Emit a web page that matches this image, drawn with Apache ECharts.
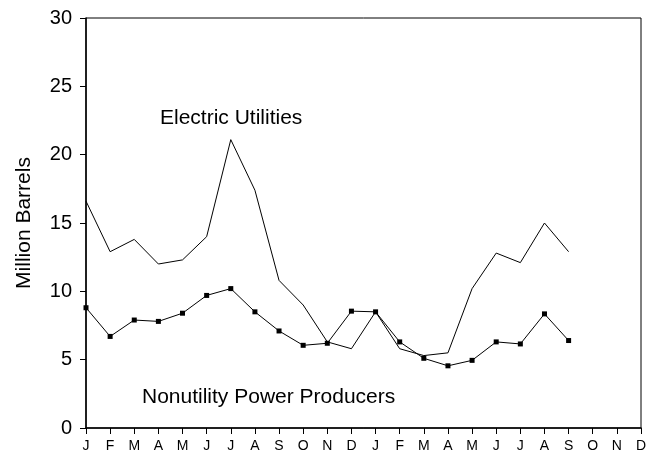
<!DOCTYPE html>
<html><head><meta charset="utf-8">
<script src="https://cdn.jsdelivr.net/npm/echarts@6/dist/echarts.min.js"></script>
<style>html,body{margin:0;padding:0;background:#fff}#c{width:654px;height:457px}</style>
</head><body><div id="c"></div>
<script>
var months = ['J','F','M','A','M','J','J','A','S','O','N','D','J','F','M','A','M','J','J','A','S','O','N','D'];
var electricUtilities = [16.6,12.9,13.8,12.0,12.3,14.0,21.1,17.4,10.8,9.0,6.3,5.8,8.5,5.8,5.3,5.5,10.2,12.8,12.1,15.0,12.9];
var nonutilityProducers = [8.8,6.7,7.9,7.8,8.4,9.7,10.2,8.5,7.1,6.05,6.2,8.55,8.5,6.3,5.1,4.55,4.95,6.3,6.15,8.35,6.4];
var yTicks = {min:0, max:30, interval:5};
var ff = '"Liberation Sans", Arial, sans-serif';
var chart = echarts.init(document.getElementById('c'), null, {renderer:'canvas'});
chart.setOption({
  animation:false,
  backgroundColor:'#fff',
  grid:{left:86, right:13, top:18, bottom:29, show:true, borderColor:'#000', borderWidth:1},
  xAxis:{
    type:'category', data:months, boundaryGap:false,
    axisLine:{lineStyle:{color:'#000', width:1.5}},
    axisTick:{show:true, length:6, lineStyle:{color:'#000'}, interval:0},
    axisLabel:{interval:0, color:'#000', fontSize:14, fontFamily:ff, margin:11},
    splitLine:{show:false}
  },
  yAxis:{
    type:'value', min:yTicks.min, max:yTicks.max, interval:yTicks.interval,
    name:'Million Barrels', nameLocation:'middle', nameGap:51,
    nameTextStyle:{color:'#000', fontSize:21, fontFamily:ff},
    axisLine:{show:true, lineStyle:{color:'#000', width:1.5}},
    axisTick:{show:true, length:6, lineStyle:{color:'#000'}},
    axisLabel:{color:'#000', fontSize:20, fontFamily:ff, margin:14},
    splitLine:{show:false}
  },
  series:[
    {name:'Electric Utilities', type:'line', data:electricUtilities, symbol:'none',
     lineStyle:{color:'#000', width:1}, itemStyle:{color:'#000'}},
    {name:'Nonutility Power Producers', type:'line', data:nonutilityProducers, symbol:'rect', symbolSize:5,
     lineStyle:{color:'#000', width:1}, itemStyle:{color:'#000'}}
  ],
  graphic:[
    {type:'text', left:160, top:108, style:{text:'Electric Utilities', font:'21px '+ff, fill:'#000'}},
    {type:'text', left:142, top:387, style:{text:'Nonutility Power Producers', font:'21px '+ff, fill:'#000'}}
  ]
});
</script></body></html>
